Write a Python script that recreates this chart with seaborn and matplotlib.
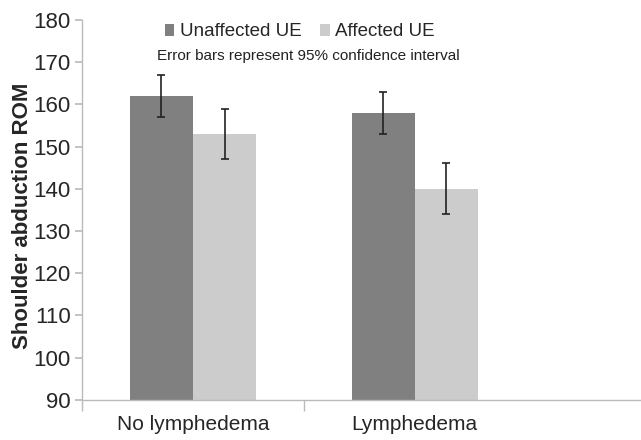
import pandas as pd
import numpy as np
import matplotlib.pyplot as plt
import seaborn as sns

groups = ['No lymphedema', 'Lymphedema']
sides = ['Unaffected UE', 'Affected UE']
unaffected = [162, 158]
affected = [153, 140]
unaffected_lo = [157, 153]
unaffected_hi = [167, 163]
affected_lo = [147, 134]
affected_hi = [159, 146]

sns.set_theme(style='white')
plt.rcParams['font.family'] = ['Liberation Sans', 'DejaVu Sans']

df = pd.DataFrame({
    'group': groups * 2,
    'side': [sides[0]] * 2 + [sides[1]] * 2,
    'rom': unaffected + affected,
    'lo': unaffected_lo + affected_lo,
    'hi': unaffected_hi + affected_hi,
})

fig = plt.figure(figsize=(6.41, 4.40), dpi=100)
ax = fig.add_axes([0.128, 0.091, 0.872, 0.864])

sns.barplot(data=df, x='group', y='rom', hue='side', order=groups, hue_order=sides,
            palette=['#808080', '#cccccc'], width=0.57, errorbar=None,
            saturation=1, linewidth=0, ax=ax)

# error bars from the table, placed on each bar centre
for i, side in enumerate(sides):
    cont = ax.containers[i]
    sub = df[df['side'] == side].set_index('group').loc[groups]
    xs = [p.get_x() + p.get_width() / 2 for p in cont.patches]
    ys = sub['rom'].values
    yerr = np.vstack([ys - sub['lo'].values, sub['hi'].values - ys])
    ax.errorbar(xs, ys, yerr=yerr, fmt='none', ecolor='#222222', elinewidth=1.2,
                capsize=3, capthick=1.2)

ax.set_ylim(90, 180)
ax.set_yticks(range(90, 181, 10))
ax.set_xlim(-0.5, 2.02)
ax.set_xlabel('')
ax.set_ylabel('Shoulder abduction ROM', fontsize=16, fontweight='bold')
ax.yaxis.set_label_coords(-0.088, 0.484)
ax.tick_params(axis='y', labelsize=16, length=5, color='#bbbbbb', left=True, pad=3)
ax.tick_params(axis='x', labelsize=15, length=0, pad=11)
ax.set_xticks([-0.5, 0.5], minor=True)
ax.tick_params(axis='x', which='minor', length=8, color='#bbbbbb', bottom=True)
for s in ['top', 'right']:
    ax.spines[s].set_visible(False)
for s in ['left', 'bottom']:
    ax.spines[s].set_color('#bbbbbb')
    ax.spines[s].set_linewidth(1)

leg = ax.legend(loc='upper center', bbox_to_anchor=(0.39, 1.035), ncol=2, frameon=False,
                fontsize=13.5, handlelength=0.5, handleheight=0.6, handletextpad=0.3,
                columnspacing=1.0)
ax.text(0.405, 0.905, 'Error bars represent 95% confidence interval', transform=ax.transAxes,
        ha='center', va='center', fontsize=11, color='#222222')

fig.savefig('out.png', dpi=100)
